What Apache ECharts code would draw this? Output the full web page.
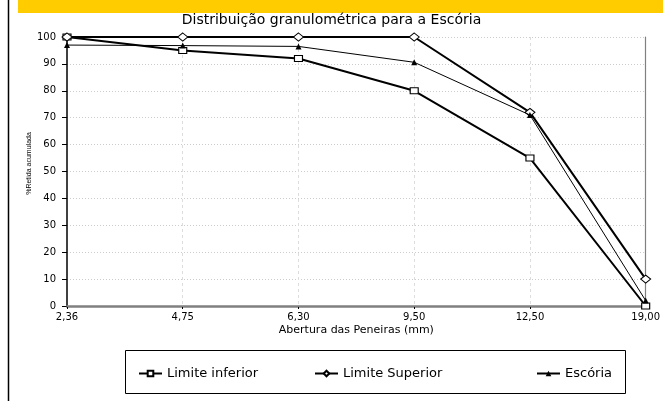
<!DOCTYPE html>
<html>
<head>
<meta charset="utf-8">
<script src="https://cdn.jsdelivr.net/npm/echarts@6/dist/echarts.min.js"></script>
<style>
html,body{margin:0;padding:0;background:#fff;}
#chart{width:663px;height:401px;}
</style>
</head>
<body>
<div id="chart"></div>
<script>
var categories = ['2,36', '4,75', '6,30', '9,50', '12,50', '19,00'];
var limiteInferior = [100, 95, 92, 80, 55, 0];
var limiteSuperior = [100, 100, 100, 100, 72, 10];
var escoria = [97, 96.8, 96.5, 90.6, 71, 2];
var yTicks = [0, 10, 20, 30, 40, 50, 60, 70, 80, 90, 100];

var FONT = "'DejaVu Sans', sans-serif";
var chart = echarts.init(document.getElementById('chart'));
var option = {
  animation: false,
  backgroundColor: '#fff',
  textStyle: { fontFamily: FONT },
  title: {
    text: 'Distribuição granulométrica para a Escória',
    left: 'center',
    top: 13,
    padding: 0,
    textStyle: { fontSize: 14, fontWeight: 'normal', color: '#000', fontFamily: FONT }
  },
  graphic: [
    { type: 'rect', shape: { x: 18, y: 0, width: 645, height: 13 }, style: { fill: '#FFCC00' }, silent: true },
    { type: 'line', shape: { x1: 8.5, y1: 0, x2: 8.5, y2: 401 }, style: { stroke: '#000', lineWidth: 1.5 }, silent: true },
    { type: 'rect', shape: { x: 125.5, y: 350.5, width: 500, height: 43 }, style: { fill: 'none', stroke: '#000', lineWidth: 1 }, silent: true }
  ],
  grid: {
    left: 67, right: 16, top: 37, bottom: 95,
    show: false
  },
  legend: [
    { data: ['Limite inferior'], left: 133, top: 362 },
    { data: ['Limite Superior'], left: 309, top: 362 },
    { data: ['Escória'], left: 531, top: 362 }
  ].map(function (l) {
    l.itemWidth = 23; l.itemHeight = 7; l.itemGap = 5;
    l.textStyle = { fontSize: 13, color: '#000', fontFamily: FONT };
    return l;
  }),
  xAxis: [{
    type: 'category',
    boundaryGap: false,
    data: categories,
    name: 'Abertura das Peneiras (mm)',
    nameLocation: 'middle',
    nameGap: 19,
    nameMoveOverlap: false,
    nameTextStyle: { fontSize: 11, color: '#000', fontFamily: FONT },
    axisLine: { lineStyle: { color: '#808080', width: 2.5 } },
    axisTick: { show: true, alignWithLabel: true, length: 3, lineStyle: { color: '#000', width: 1 } },
    axisLabel: { fontSize: 10, color: '#000', margin: 6, fontFamily: FONT },
    splitLine: { show: true, interval: function (i) { return i > 0 && i < categories.length - 1; },
      lineStyle: { color: '#ddd', type: [3, 3], width: 1 } }
  }, {
    type: 'category',
    position: 'top',
    boundaryGap: false,
    data: categories,
    z: 3,
    axisLine: { show: true, lineStyle: { color: '#808080', width: 1.2 } },
    axisTick: { show: false },
    axisLabel: { show: false },
    splitLine: { show: false }
  }],
  yAxis: [{
    type: 'value',
    min: 0, max: 100, interval: 10,
    name: '%Retida acumulada',
    nameLocation: 'middle',
    nameRotate: 90,
    nameGap: 34,
    nameMoveOverlap: false,
    nameTextStyle: { fontSize: 7, color: '#000', fontFamily: "'Liberation Sans', Arial, sans-serif", padding: [0, 0, 0, 16] },
    axisLine: { show: true, lineStyle: { color: '#000', width: 1.5 } },
    axisTick: { show: true, length: 5, lineStyle: { color: '#000' } },
    axisLabel: { fontSize: 10, color: '#000', margin: 11, fontFamily: FONT,
      formatter: function (v) { return yTicks.indexOf(v) >= 0 ? String(v) : ''; } },
    splitLine: { show: true, lineStyle: { color: '#ccc', type: [1, 2], width: 1 } }
  }, {
    type: 'value',
    position: 'right',
    min: 0, max: 100, interval: 10,
    z: 3,
    axisLine: { show: true, lineStyle: { color: '#808080', width: 1.2 } },
    axisTick: { show: false },
    axisLabel: { show: false },
    splitLine: { show: false }
  }],
  series: [
    {
      name: 'Limite inferior', type: 'line', data: limiteInferior,
      symbol: 'rect', symbolSize: [8, 6], showAllSymbol: true,
      lineStyle: { color: '#000', width: 2 },
      itemStyle: { color: '#fff', borderColor: '#000', borderWidth: 1 },
      z: 3
    },
    {
      name: 'Limite Superior', type: 'line', data: limiteSuperior,
      symbol: 'diamond', symbolSize: [10, 8],
      lineStyle: { color: '#000', width: 2 },
      itemStyle: { color: '#fff', borderColor: '#000', borderWidth: 1 },
      z: 4
    },
    {
      name: 'Escória', type: 'line', data: escoria,
      symbol: 'triangle', symbolSize: [6, 6],
      lineStyle: { color: '#000', width: 1 },
      itemStyle: { color: '#000', borderColor: '#000', borderWidth: 0 },
      z: 5
    }
  ]
};
chart.setOption(option);
</script>
</body>
</html>
